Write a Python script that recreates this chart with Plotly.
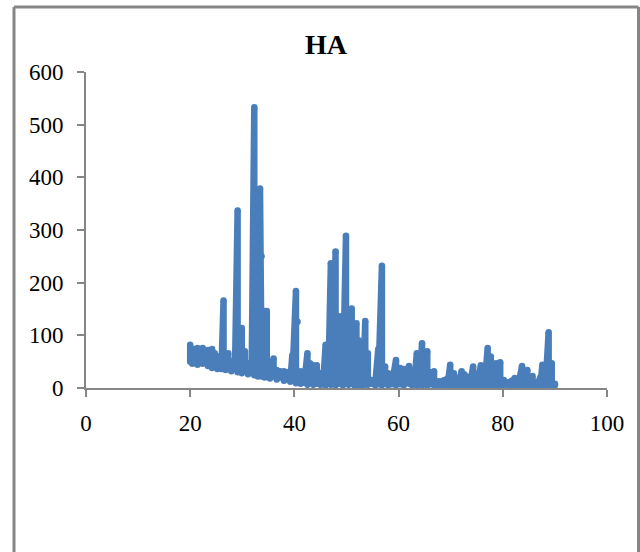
import plotly.graph_objects as go

title = "HA"
x_ticks = [0, 20, 40, 60, 80, 100]
y_ticks = [0, 100, 200, 300, 400, 500, 600]

peak_angle = [
    20.0, 20.4, 20.9, 21.4, 21.9, 22.4, 22.9, 23.4, 23.9, 24.2, 24.7, 25.2, 25.6, 26.0, 26.4, 26.8, 27.3, 27.9, 28.6, 29.1,
    29.5, 29.9, 30.5, 31.1, 31.8, 32.3, 32.7, 33.0, 33.4, 33.7, 34.0, 34.3, 34.7, 35.3, 36.0, 36.6, 37.3, 38.0, 38.7, 39.2,
    39.6, 40.3, 40.6, 41.2, 41.9, 42.5, 43.0, 43.6, 44.3, 45.0, 45.5, 46.0, 46.5, 47.0, 47.4, 47.9, 48.6, 49.3, 49.9, 50.4,
    51.0, 51.5, 51.9, 52.4, 52.8, 53.2, 53.6, 54.1, 54.8, 55.5, 56.1, 56.8, 57.4, 58.0, 58.7, 59.5, 60.3, 61.0, 62.0, 62.6,
    63.0, 63.5, 64.0, 64.5, 65.0, 65.5, 66.1, 66.8, 67.6, 68.2, 68.8, 69.4, 69.9, 70.6, 71.0, 71.6, 72.1, 72.6, 73.1, 73.7,
    74.3, 75.0, 75.8, 76.5, 77.1, 77.7, 78.2, 78.7, 79.1, 79.5, 80.2, 81.2, 81.8, 82.3, 83.0, 83.7, 84.2, 84.7, 85.2, 85.7,
    86.6, 87.2, 87.6, 88.2, 88.8, 89.4, 90.0,
]
peak_intensity = [
    82, 68, 74, 76, 72, 76, 70, 72, 62, 74, 66, 60, 56, 62, 166, 60, 66, 50, 56, 337,
    90, 114, 70, 47, 47, 533, 210, 340, 379, 250, 146, 146, 146, 47, 56, 34, 32, 32, 30, 32,
    62, 184, 126, 32, 22, 66, 47, 43, 43, 28, 22, 82, 36, 237, 160, 259, 136, 89, 289, 120,
    151, 110, 123, 90, 79, 70, 127, 66, 15, 14, 74, 232, 41, 28, 22, 53, 38, 36, 42, 24,
    30, 66, 50, 85, 60, 70, 30, 32, 13, 13, 15, 18, 44, 28, 13, 20, 32, 26, 22, 13,
    41, 19, 43, 25, 76, 60, 40, 47, 40, 49, 15, 11, 14, 19, 13, 42, 30, 34, 20, 23,
    11, 20, 44, 42, 106, 47, 8,
]
valley_intensity = [
    50, 46, 52, 44, 52, 46, 50, 42, 46, 38, 44, 36, 42, 36, 38, 34, 40, 32, 38, 30,
    36, 28, 33, 26, 30, 24, 30, 22, 27, 22, 26, 20, 24, 18, 22, 16, 20, 14, 18, 12,
    14, 9, 12, 8, 10, 6, 9, 6, 8, 6, 7, 5, 8, 6, 8, 5, 8, 5, 8, 6,
    8, 5, 7, 5, 8, 5, 7, 6, 8, 5, 7, 5, 8, 5, 7, 5, 7, 5, 8, 5,
    8, 5, 7, 5, 7, 5, 7, 5, 6, 4, 6, 4, 6, 4, 6, 4, 6, 4, 6, 4,
    6, 4, 6, 4, 6, 4, 6, 4, 6, 4, 6, 4, 6, 4, 6, 4, 6, 4, 6, 4,
    6, 4, 6, 4, 6, 4, 5,
]

# Each angle draws a vertical stroke between its valley and its peak
two_theta, intensity = [], []
for a, p, v in zip(peak_angle, peak_intensity, valley_intensity):
    two_theta += [a, a]
    intensity += [p, v]

W, H = 640, 552
L, R, T, B = 86, 607, 72, 388

fig = go.Figure(go.Scatter(
    x=two_theta, y=intensity, mode="lines+markers",
    line=dict(color="#4a7ebb", width=6.5, shape="linear"),
    marker=dict(color="#4a7ebb", size=6.5, line=dict(width=0)),
    showlegend=False, hoverinfo="skip",
))

axis = dict(
    showgrid=False, zeroline=False, showline=True, linecolor="#868686", linewidth=2,
    ticks="outside", tickcolor="#868686", tickwidth=2, ticklen=7,
    tickfont=dict(family="Liberation Serif", size=23, color="black"),
)
fig.update_xaxes(range=[0, 100], tickvals=x_ticks, ticklabelstandoff=6, **axis)
fig.update_yaxes(range=[0, 600], tickvals=y_ticks, ticklabelstandoff=9, **axis)

def px(v): return (v - L) / (R - L)
def py(v): return (B - v) / (B - T)

frame = dict(type="line", xref="paper", yref="paper", line=dict(color="#868686", width=3), layer="below")
fig.update_layout(
    width=W, height=H, autosize=False,
    margin=dict(l=L, r=W - R, t=T, b=H - B),
    paper_bgcolor="white", plot_bgcolor="white",
    title=dict(text=f"<b>{title}</b>", x=px(326), xref="paper", xanchor="center",
               y=1 - 44 / H, yref="container", yanchor="middle",
               font=dict(family="Liberation Serif", size=28, color="black")),
    shapes=[
        dict(frame, x0=px(14), x1=px(14), y0=py(7), y1=py(560)),
        dict(frame, x0=px(14), x1=px(638.5), y0=py(7), y1=py(7)),
        dict(frame, x0=px(638.5), x1=px(638.5), y0=py(7), y1=py(560)),
    ],
)
fig.write_html(
    "out.html",
    config={"displayModeBar": False},
    post_script="document.body.style.margin='0';document.body.style.overflow='hidden';",
)
